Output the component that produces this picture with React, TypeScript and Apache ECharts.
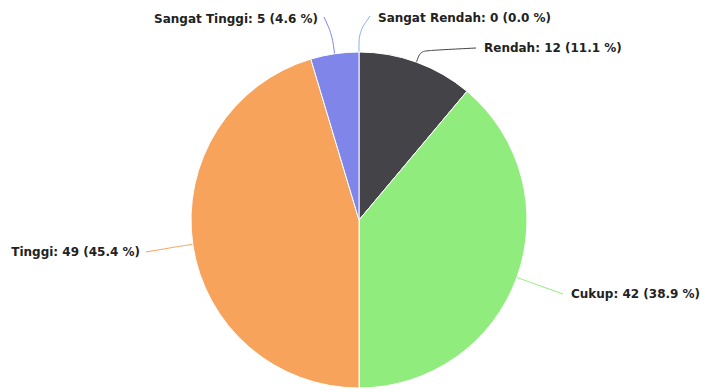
import React, { useEffect, useRef } from "react";
import * as echarts from "echarts";

const categories = ["Sangat Rendah", "Rendah", "Cukup", "Tinggi", "Sangat Tinggi"];
const values = [0, 12, 42, 49, 5];
const colors = ["#7cb5ec", "#434348", "#90ed7d", "#f7a35c", "#8085e9"];

// label anchor layout (styling only)
const labelAnchors: { x: number; y: number; align: "left" | "right" }[] = [
  { x: 378, y: 18, align: "left" },
  { x: 484, y: 48, align: "left" },
  { x: 571, y: 294, align: "left" },
  { x: 140, y: 252, align: "right" },
  { x: 318, y: 19, align: "right" },
];
const radialExt = [20, 12, 15, 15, 20];

const CX = 359;
const CY = 220;
const R = 168;

export default function App() {
  const ref = useRef<HTMLDivElement>(null);
  useEffect(() => {
    if (!ref.current) return;
    const chart = echarts.init(ref.current, undefined, { renderer: "svg" });
    const total = values.reduce((a, b) => a + b, 0);
    const mids: number[] = [];
    let acc = 0;
    values.forEach((v) => {
      mids.push(((acc + v / 2) / total) * Math.PI * 2);
      acc += v;
    });
    chart.setOption({
      animation: false,
      backgroundColor: "#ffffff",
      series: [
        {
          type: "pie",
          center: [CX, CY],
          radius: R,
          startAngle: 90,
          clockwise: true,
          avoidLabelOverlap: false,
          percentPrecision: 1,
          itemStyle: { borderColor: "#ffffff", borderWidth: 1 },
          emphasis: { disabled: true },
          data: categories.map((c, i) => ({
            name: c,
            value: values[i],
            itemStyle: { color: colors[i] },
            labelLine: { lineStyle: { color: colors[i] } },
          })),
          label: {
            show: true,
            position: "outside",
            formatter: (p: any) => `${p.name}: ${p.value} (${(p.percent ?? 0).toFixed(1)} %)`,
            fontFamily: "DejaVu Sans",
            fontWeight: "bold",
            fontSize: 12,
            color: "#222222",
          },
          labelLine: {
            show: true,
            smooth: 0.3,
            length: 15,
            length2: 15,
            lineStyle: { width: 1 },
          },
          labelLayout: (params: any) => {
            const i = params.dataIndex;
            const a = labelAnchors[i];
            const th = mids[i];
            const sx = CX + R * Math.sin(th);
            const sy = CY - R * Math.cos(th);
            const re = R + radialExt[i];
            const mx = CX + re * Math.sin(th);
            const my = CY - re * Math.cos(th);
            const ex = a.align === "left" ? a.x - 8 : a.x + 6;
            const ey = a.y - (i === 0 || i === 4 ? 2 : 0);
            return {
              x: a.x,
              y: a.y,
              align: a.align,
              verticalAlign: "middle",
              labelLinePoints: [
                [sx, sy],
                [mx, my],
                [ex, ey],
              ],
            };
          },
        },
      ],
    });
    return () => chart.dispose();
  }, []);
  return (
    <div
      ref={ref}
      style={{ position: "fixed", left: 0, top: 0, width: 705, height: 392 }}
    />
  );
}
